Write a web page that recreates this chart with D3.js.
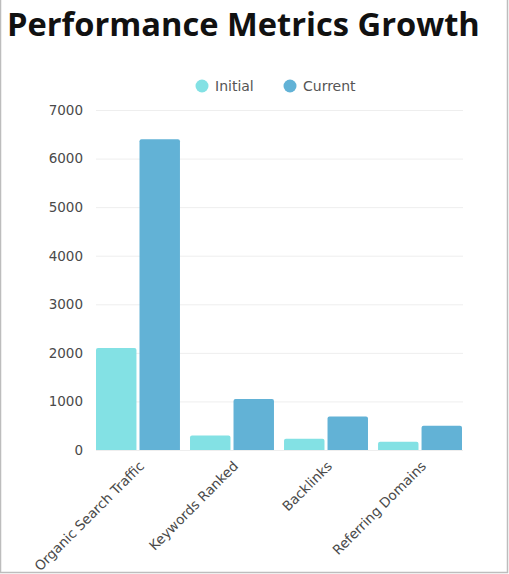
<!DOCTYPE html>
<html><head><meta charset="utf-8">
<script src="https://cdn.jsdelivr.net/npm/d3@7"></script>
<style>body{margin:0;background:#fff;}svg{display:block;}</style>
</head><body>
<script>
const categories = ["Organic Search Traffic", "Keywords Ranked", "Backlinks", "Referring Domains"];
const seriesNames = ["Initial", "Current"];
const initialValues = [2100, 300, 230, 170];
const currentValues = [6400, 1050, 690, 500];
const yTicks = [0, 1000, 2000, 3000, 4000, 5000, 6000, 7000];
const colors = ["#83e1e4", "#62b2d6"];

const W = 509, H = 574;
const svg = d3.select("body").append("svg").attr("width", W).attr("height", H);

// border
svg.append("path").attr("d", `M0.5,0 V${H-1.5} H${W-1.5} V0`).attr("fill","none").attr("stroke","#bdbdbd").attr("stroke-width",1.5);

// title
const title = svg.append("text").attr("x", 7).attr("y", 36)
  .attr("font-family", "'Open Sans', sans-serif").attr("font-weight", 700)
  .attr("font-size", 32).attr("fill", "#111").text("Performance Metrics Growth");
const tw = title.node().getComputedTextLength();
title.attr("font-size", 32 * 473 / tw);

const y = d3.scaleLinear().domain([0, 7000]).range([450, 110]);
const x0 = d3.scaleBand().domain(categories).range([96, 462]).paddingInner(0.107).paddingOuter(0);
const x1 = d3.scaleBand().domain(seriesNames).range([0, x0.bandwidth()]).paddingInner(0.07);

// grid
svg.append("g").selectAll("line").data(yTicks).join("line")
  .attr("x1", 96).attr("x2", 463)
  .attr("y1", d => y(d) + 0.5).attr("y2", d => y(d) + 0.5)
  .attr("stroke", "#eeeeee").attr("stroke-width", 1);

// y axis labels
const yAxis = svg.append("g").attr("transform", "translate(83,0)")
  .call(d3.axisLeft(y).tickValues(yTicks).tickSize(0).tickPadding(0).tickFormat(d3.format("d")));
yAxis.select(".domain").remove();
yAxis.selectAll("text").attr("font-family", "'DejaVu Sans', sans-serif").attr("font-size", 13.5)
  .attr("font-weight", 400).attr("fill", "#4a4a4a");

// bars
const data = categories.map((c, i) => ({cat: c, vals: [initialValues[i], currentValues[i]]}));
const r = 2;
function barPath(x, w, yt, yb) {
  return `M${x},${yb} V${yt + r} Q${x},${yt} ${x + r},${yt} H${x + w - r} Q${x + w},${yt} ${x + w},${yt + r} V${yb} Z`;
}
const groups = svg.append("g").selectAll("g").data(data).join("g")
  .attr("transform", d => `translate(${x0(d.cat)},0)`);
groups.selectAll("path").data(d => d.vals.map((v, j) => ({s: seriesNames[j], v, j}))).join("path")
  .attr("d", d => barPath(x1(d.s), x1.bandwidth(), y(d.v), y(0)))
  .attr("fill", d => colors[d.j]);

// x axis labels
const xAxis = svg.append("g").attr("transform", `translate(0,${y(0)})`)
  .call(d3.axisBottom(x0).tickSize(0).tickPadding(0));
xAxis.select(".domain").remove();
xAxis.selectAll("text")
  .attr("font-family", "'DejaVu Sans', sans-serif").attr("font-size", 13.5).attr("fill", "#4a4a4a")
  .attr("text-anchor", "end").attr("dy", 0)
  .attr("transform", "translate(7,17) rotate(-45)");

// legend
const legend = svg.append("g");
const legItems = [{name: "Initial", cx: 202, tx: 215}, {name: "Current", cx: 290, tx: 303}];
legItems.forEach((it, i) => {
  legend.append("circle").attr("cx", it.cx).attr("cy", 86).attr("r", 6.5).attr("fill", colors[i]);
  legend.append("text").attr("x", it.tx).attr("y", 91).attr("font-family", "'DejaVu Sans', sans-serif")
    .attr("font-size", 14).attr("fill", "#555").text(it.name);
});
</script>
</body></html>
